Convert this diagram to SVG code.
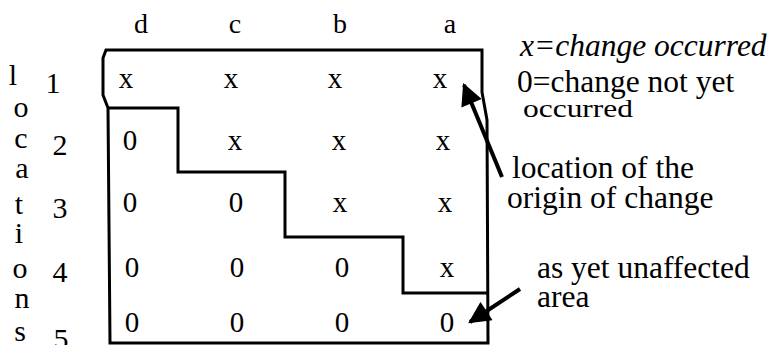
<svg xmlns="http://www.w3.org/2000/svg" width="771" height="345" viewBox="0 0 771 345">
  <style>
    text { fill: #000; }
    .hdr { font-size: 28px; text-anchor: middle; }
    .cell { font-size: 29px; text-anchor: middle; }
    .side { font-size: 30px; text-anchor: middle; }
    .note { font-size: 31.5px; }
    .it { font-style: italic; }
    .edge { fill: none; stroke: #000; stroke-width: 3; stroke-linejoin: miter; }
    .lead { fill: none; stroke: #000; stroke-width: 4; }
  </style>
  <defs>
    <marker id="head" viewBox="0 0 10 10" refX="9" refY="5" markerWidth="6" markerHeight="5.5" markerUnits="strokeWidth" orient="auto">
      <path d="M0,0 L10,5 L0,10 Z" fill="#000"/>
    </marker>
  </defs>

  <rect width="771" height="345" fill="#fff"/>

  <g font-family="Liberation Serif, Times New Roman, DejaVu Serif, serif">
  <!-- column letters -->
  <g id="columns">
    <text class="hdr" x="141" y="33">d</text>
    <text class="hdr" x="235" y="33">c</text>
    <text class="hdr" x="340" y="33">b</text>
    <text class="hdr" x="450" y="33">a</text>
  </g>

  <!-- vertical axis word and row numbers -->
  <g id="locations">
    <text class="side" x="13" y="85">l</text>
    <text class="side" x="21" y="117">o</text>
    <text class="side" x="21" y="148">c</text>
    <text class="side" x="22" y="178">a</text>
    <text class="side" x="19" y="214">t</text>
    <text class="side" x="19" y="243">i</text>
    <text class="side" x="20" y="278">o</text>
    <text class="side" x="22" y="308">n</text>
    <text class="side" x="20" y="341">s</text>
  </g>
  <g id="rows">
    <text class="side" x="53" y="93">1</text>
    <text class="side" x="60" y="155">2</text>
    <text class="side" x="60" y="218">3</text>
    <text class="side" x="60" y="282">4</text>
    <text class="side" x="61" y="349">5</text>
  </g>

  <!-- outline of the grid and the change front -->
  <g id="grid">
    <path class="edge" d="M110,343 L108,108 L103,95 L103,58 L106,50 L482,50 L482,92 L487,120 L488,343 Z"/>
    <path class="edge" d="M108,108 L178,108 L178,172 L285,172 L285,237 L403,237 L403,293 L488,293"/>
  </g>

  <!-- cell states -->
  <g id="cells">
    <text class="cell" x="126" y="88">x</text>
    <text class="cell" x="231" y="88">x</text>
    <text class="cell" x="335" y="88">x</text>
    <text class="cell" x="440" y="88">x</text>

    <text class="cell" x="130" y="150">0</text>
    <text class="cell" x="235" y="150">x</text>
    <text class="cell" x="339" y="150">x</text>
    <text class="cell" x="443" y="150">x</text>

    <text class="cell" x="130" y="212">0</text>
    <text class="cell" x="236" y="212">0</text>
    <text class="cell" x="340" y="212">x</text>
    <text class="cell" x="445" y="212">x</text>

    <text class="cell" x="132" y="277">0</text>
    <text class="cell" x="237" y="277">0</text>
    <text class="cell" x="342" y="277">0</text>
    <text class="cell" x="447" y="277">x</text>

    <text class="cell" x="132" y="332">0</text>
    <text class="cell" x="237" y="332">0</text>
    <text class="cell" x="342" y="332">0</text>
    <text class="cell" x="447" y="332">0</text>
  </g>

  <!-- legend -->
  <g id="legend">
    <text class="note it" x="520" y="56">x=change occurred</text>
    <text class="note" x="517" y="92">0=change not yet</text>
    <text x="523" y="117" font-size="25" textLength="110" lengthAdjust="spacingAndGlyphs">occurred</text>
  </g>

  <g id="origin-label">
    <text class="note" x="512" y="178">location of the</text>
    <text class="note" x="507" y="208">origin of change</text>
  </g>

  <g id="unaffected-label">
    <text class="note" x="537" y="278">as yet unaffected</text>
    <text class="note" x="537" y="307">area</text>
  </g>
  </g>

  <!-- pointer arrows -->
  <g id="connectors">
    <line class="lead" x1="502" y1="177" x2="464" y2="85" marker-end="url(#head)"/>
    <line class="lead" x1="520" y1="289" x2="470" y2="322" marker-end="url(#head)"/>
  </g>
</svg>
